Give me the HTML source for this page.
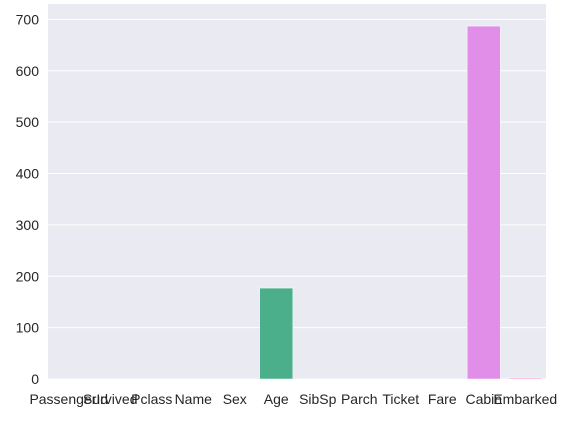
<!DOCTYPE html>
<html><head><meta charset="utf-8"><style>
body{margin:0;background:#fff;font-family:"Liberation Sans","DejaVu Sans",sans-serif;}
svg text{font-family:"Liberation Sans","DejaVu Sans",sans-serif;font-size:14px;fill:#262626;}
</style></head><body>
<svg id="chart" width="568" height="416">
<rect x="48" y="4" width="498" height="375" fill="#eaeaf2"/>
<g id="grid"></g><g id="bars"></g><g id="xlabels"></g><g id="ylabels"></g>
</svg>
<script>
const categories=["PassengerId","Survived","Pclass","Name","Sex","Age","SibSp","Parch","Ticket","Fare","Cabin","Embarked"];
const values=[0,0,0,0,0,177,0,0,0,0,687,2];
const colors=["#f77189","#dc8932","#ae9d31","#77ab31","#33b07a","#4aaf8a","#36ada4","#38a9c5","#6e9bf4","#cc7af4","#e08ee8","#f48fb7"];
const yTicks=[0,100,200,300,400,500,600,700];
const L=48,R=546,T=4,B=379,ymax=730;
const ns="http://www.w3.org/2000/svg";
const y=v=>B-(v/ymax)*(B-T);
const step=(R-L)/categories.length;
const x=i=>L+step*(i+0.5);
function mk(t,a,p){const e=document.createElementNS(ns,t);for(const k in a)e.setAttribute(k,a[k]);p.appendChild(e);return e;}
const grid=document.getElementById('grid'),bars=document.getElementById('bars'),xl=document.getElementById('xlabels'),yl=document.getElementById('ylabels');
yTicks.forEach(t=>{
 const g=mk('line',{x1:L,x2:R,y1:y(t),y2:y(t),stroke:'#fff','stroke-width':1},grid);
 
 
 const tx=mk('text',{x:L-9,y:y(t)+5,'text-anchor':'end'},yl);tx.textContent=t;
 
 
});
categories.forEach((c,i)=>{
 const w=step*0.8;
 const r=mk('rect',{x:x(i)-w/2,y:y(values[i]),width:w,height:B-y(values[i]),fill:colors[i],stroke:'#fff','stroke-width':0.5},bars);
 
 
 const tx=mk('text',{x:x(i),y:B+25,'text-anchor':'middle'},xl);tx.textContent=c;
 
 
});
</script>
</body></html>
